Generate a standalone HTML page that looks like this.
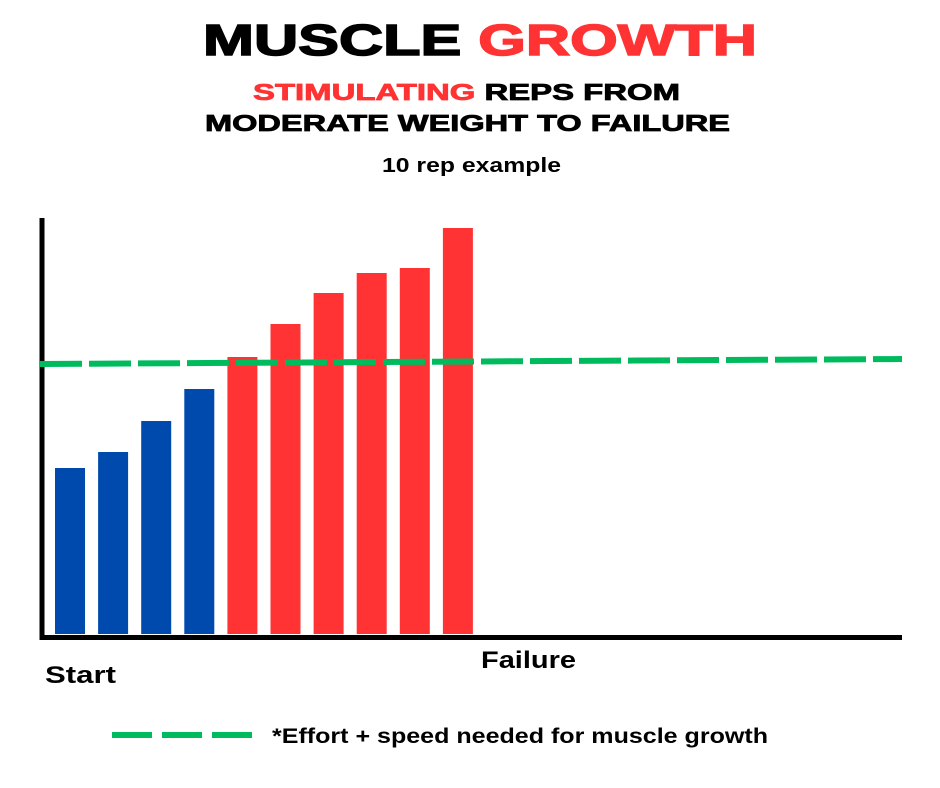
<!DOCTYPE html>
<html><head><meta charset="utf-8"><style>
body{margin:0;background:#fff;width:940px;height:788px;overflow:hidden;font-family:"Liberation Sans",sans-serif;}
svg{display:block}
</style></head><body>
<svg width="940" height="788">
<g font-family="Liberation Sans, sans-serif" font-weight="900">
<text x="203" y="55" font-size="44" textLength="554" lengthAdjust="spacingAndGlyphs" stroke-width="1.5"><tspan fill="#000" stroke="#000">MUSCLE </tspan><tspan fill="#ff3333" stroke="#ff3333">GROWTH</tspan></text>
<text x="253" y="100" font-size="23" textLength="427" lengthAdjust="spacingAndGlyphs" stroke-width="0.8"><tspan fill="#ff3333" stroke="#ff3333">STIMULATING</tspan><tspan fill="#000" stroke="#000"> REPS FROM</tspan></text>
<text x="205" y="131" font-size="23" textLength="525" lengthAdjust="spacingAndGlyphs" fill="#000" stroke="#000" stroke-width="0.8">MODERATE WEIGHT TO FAILURE</text>
<text x="382" y="172" font-size="20" textLength="179" lengthAdjust="spacingAndGlyphs" font-weight="bold" fill="#000">10 rep example</text>
</g>
<g id="bars"></g>
<line x1="42" y1="218" x2="42" y2="640" stroke="#000" stroke-width="5"/>
<line x1="40" y1="637.5" x2="902" y2="637.5" stroke="#000" stroke-width="5"/>
<line id="thr" stroke="#00bb5e" stroke-width="6" stroke-dasharray="42,7"/>
<text x="45" y="683" font-size="24" font-weight="bold" textLength="71" lengthAdjust="spacingAndGlyphs">Start</text>
<text x="481" y="668" font-size="24" font-weight="bold" textLength="95" lengthAdjust="spacingAndGlyphs">Failure</text>
<line x1="112" y1="735" x2="262" y2="735" stroke="#00bb5e" stroke-width="6" stroke-dasharray="40,10"/>
<text x="272" y="743" font-size="21" font-weight="bold" textLength="496" lengthAdjust="spacingAndGlyphs">*Effort + speed needed for muscle growth</text>
</svg>
<script>
const reps=[1,2,3,4,5,6,7,8,9,10];
const effort=[166,182,213,245,277,310,341,361,366,406];
const stimulating=[false,false,false,false,true,true,true,true,true,true];
const thresholdStart=270;
const thresholdEnd=275;
const base=634;
function y(v){return base-v;}
function x(i){return 55+i*43.1;}
const g=document.getElementById('bars');
effort.forEach((v,i)=>{
 const r=document.createElementNS('http://www.w3.org/2000/svg','rect');
 r.setAttribute('x',x(i));r.setAttribute('width',30);
 r.setAttribute('y',y(v));r.setAttribute('height',v);
 r.setAttribute('fill',stimulating[i]?'#ff3333':'#004aad');
 
 
 g.appendChild(r);
});
const t=document.getElementById('thr');
t.setAttribute('x1',40);t.setAttribute('y1',y(thresholdStart));
t.setAttribute('x2',902);t.setAttribute('y2',y(thresholdEnd));
</script>
</body></html>
